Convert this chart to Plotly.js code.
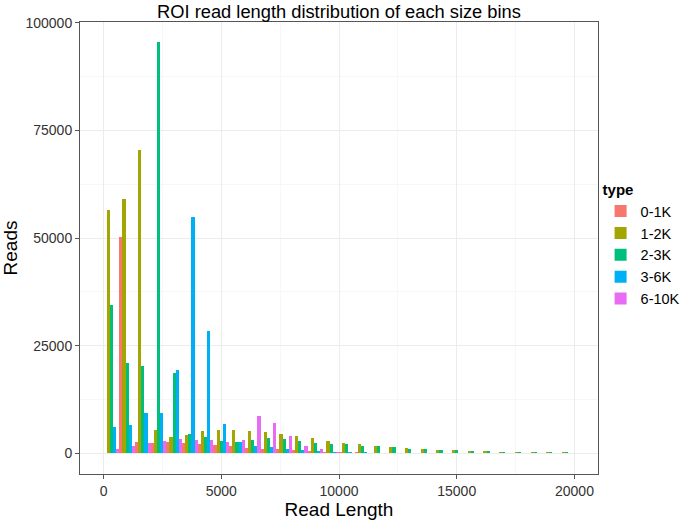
<!DOCTYPE html>
<html>
<head>
<meta charset="utf-8">
<script src="https://cdn.plot.ly/plotly-3.0.1.min.js"></script>
<style>
  html, body { margin: 0; padding: 0; background: #fff; }
  #chart { width: 685px; height: 520px; }
</style>
</head>
<body>
<div id="chart"></div>
<script>
// bin centres (30 bins of ~667 over 0..20000)
let binMid = [333, 1000, 1667, 2333, 3000, 3667, 4333, 5000, 5667, 6333,
              7000, 7667, 8333, 9000, 9667, 10333, 11000, 11667, 12333, 13000,
              13667, 14333, 15000, 15667, 16333, 17000, 17667, 18333, 19000, 19667];

let types = ['0-1K', '1-2K', '2-3K', '3-6K', '6-10K'];
let colors = ['#F8766D', '#A3A500', '#00BF7D', '#00B0F6', '#E76BF3'];

// reads per bin
let reads0_1K = [0, 50300, 2600, 2300, 2600, 2300, 2100, 2000, 1650, 1350,
                 1100, 930, 700, 540, 380, 300, 230, 180, 150, 130,
                 120, 110, 100, 100, 90, 90, 80, 80, 70, 70];
let reads1_2K = [56500, 59200, 70400, 5400, 3700, 4300, 5150, 5450, 5480, 5170,
                 4940, 4480, 4010, 3550, 2780, 2390, 2080, 1700, 1420, 1160,
                 1000, 770, 690, 580, 460, 380, 310, 260, 230, 200];
let reads2_3K = [34500, 21000, 20400, 95450, 18700, 4400, 3820, 2780, 2700, 3080,
                 3550, 3240, 2780, 2390, 2080, 2080, 1770, 1700, 1400, 1080,
                 920, 770, 690, 540, 460, 380, 310, 260, 230, 200];
let reads3_6K = [6100, 6700, 9260, 9400, 19300, 54900, 28500, 6870, 2550, 1600,
                 1550, 1080, 700, 460, 380, 250, 220, 180, 160, 150,
                 140, 130, 120, 110, 110, 100, 100, 90, 90, 80];
let reads6_10K = [930, 1700, 2310, 2930, 3240, 3080, 3000, 2750, 3000, 8600,
                  7100, 3930, 1770, 930, 250, 180, 160, 150, 140, 130,
                  120, 110, 110, 100, 100, 90, 90, 80, 80, 70];

let series = [reads0_1K, reads1_2K, reads2_3K, reads3_6K, reads6_10K];

let traces = [];
for (let i = 0; i < types.length; i++) {
    traces.push({
        type: 'bar',
        name: types[i],
        x: binMid,
        y: series[i],
        marker: {color: colors[i], line: {width: 0}},
        hoverinfo: 'x+y+name'
    });
}

let baseFont = {family: '"Liberation Sans", Arial, sans-serif', color: '#000'};

var layout = {
    width: 685,
    height: 520,
    paper_bgcolor: '#fff',
    plot_bgcolor: '#fff',
    barmode: 'group',
    bargap: 0,
    bargroupgap: 0,
    font: baseFont,
    title: {
        text: 'ROI read length distribution of each size bins',
        font: {size: 18.3, color: '#000'},
        x: 0.5, xref: 'paper', xanchor: 'center',
        y: 0.978, yref: 'container', yanchor: 'middle'
    },
    margin: {l: 80, r: 87, t: 22, b: 46, pad: 0, autoexpand: false},
    xaxis: {
        range: [-1000, 21000],
        tickvals: [0, 5000, 10000, 15000, 20000],
        ticktext: ['0', '5000', '10000', '15000', '20000'],
        ticks: 'outside', ticklen: 4, tickcolor: '#555', tickwidth: 1,
        tickfont: {size: 14, color: '#333'},
        showgrid: true, gridcolor: '#ececec', gridwidth: 1,
        minor: {dtick: 2500, tick0: 2500, showgrid: true, gridcolor: '#f7f7f7', ticks: ''},
        zeroline: false,
        showline: true, linecolor: '#555', linewidth: 1, mirror: true,
        title: {text: 'Read Length', font: {size: 19, color: '#000'}, standoff: 2}
    },
    yaxis: {
        range: [-4800, 100200],
        tickvals: [0, 25000, 50000, 75000, 100000],
        ticktext: ['0', '25000', '50000', '75000', '100000'],
        ticks: 'outside', ticklen: 4, tickcolor: '#555', tickwidth: 1,
        tickfont: {size: 14, color: '#333'},
        showgrid: true, gridcolor: '#ececec', gridwidth: 1,
        minor: {dtick: 25000, tick0: 12500, showgrid: true, gridcolor: '#f7f7f7', ticks: ''},
        zeroline: false,
        showline: true, linecolor: '#555', linewidth: 1, mirror: true,
        title: {text: 'Reads', font: {size: 19, color: '#000'}, standoff: 4}
    },
    legend: {
        title: {text: '<b>type</b>', font: {size: 15}},
        font: {size: 14.5, color: '#000'},
        x: 1.005, xanchor: 'left',
        y: 0.66, yanchor: 'top',
        bgcolor: 'rgba(0,0,0,0)',
        tracegroupgap: 0,
        itemwidth: 30
    },
    showlegend: true
};

Plotly.newPlot('chart', traces, layout, {displayModeBar: false, staticPlot: true});
</script>
</body>
</html>
